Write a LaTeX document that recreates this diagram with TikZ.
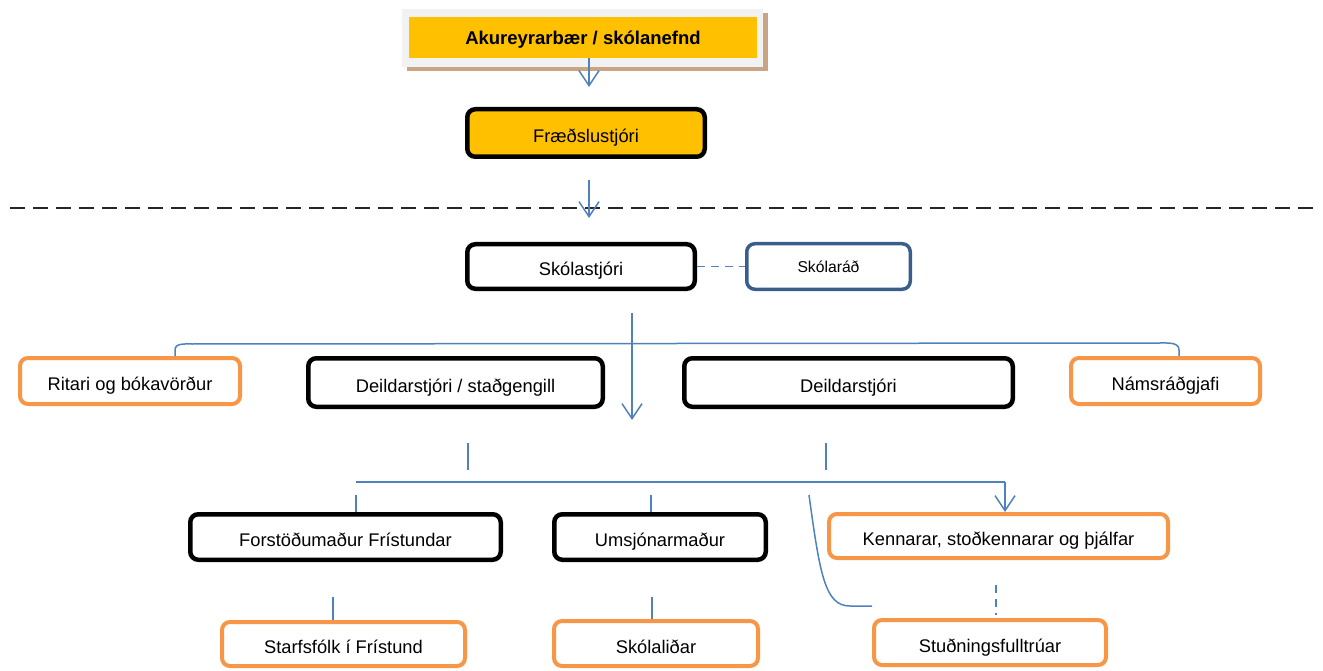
\documentclass[tikz,border=0pt]{standalone}
\usepackage{fontspec}
\setmainfont{Liberation Sans}
\usetikzlibrary{arrows.meta}
\definecolor{cyellow}{HTML}{FFC000}
\definecolor{corange}{HTML}{F79646}
\definecolor{cblue}{HTML}{4F81BD}
\definecolor{cnavy}{HTML}{3A5E8C}
\definecolor{cframe}{HTML}{F2F2F2}
\definecolor{cshadow}{HTML}{C9A584}
\begin{document}
\begin{tikzpicture}[x=1pt,y=-1pt,
  box/.style={draw, rounded corners=8pt, fill=white, inner sep=0pt,
    font=\fontsize{18.3}{20}\selectfont, text height=19pt, text depth=0pt},
  blackbox/.style={box, draw=black, line width=4.5pt},
  orangebox/.style={box, draw=corange, line width=4pt},
  navybox/.style={box, draw=cnavy, line width=3.5pt, font=\fontsize{15.7}{18}\selectfont, text height=12pt, text depth=0.8pt},
  conn/.style={draw=cblue, line width=1.5pt},
  arr/.style={conn, -{Straight Barb[length=15pt,width=20pt,line width=1.5pt]}},
]
\useasboundingbox (0,0) rectangle (1323,671);

% top box with frame and shadow
\node[fill=cframe, inner sep=0pt, minimum width=361pt, minimum height=58pt] (aku) at (582.5,38) {};
\fill[cshadow] ([shift={(5,4)}]aku.north east) rectangle ([shift={(5,4)}]aku.south east -| aku.south west);
\node[fill=cframe, inner sep=0pt, minimum width=361pt, minimum height=58pt] at (aku) {};
\node[fill=cyellow, inner sep=0pt, minimum width=348pt, minimum height=41pt,
  font=\fontsize{18.5}{20}\selectfont\bfseries, text height=15pt, text depth=0pt] (akuin) at (583,37.5) {Akureyrarbær / skólanefnd};

\node[blackbox, fill=cyellow, minimum width=237.5pt, minimum height=47.5pt] (fr) at (586,133) {Fræðslustjóri};
\node[blackbox, minimum width=227.5pt, minimum height=44.5pt] (sk) at (581,266.5) {Skólastjóri};
\node[navybox, minimum width=163.5pt, minimum height=45.5pt] (sr) at (828.5,266.5) {Skólaráð};

\node[orangebox, minimum width=220pt, minimum height=46pt] (rit) at (130,381) {Ritari og bókavörður};
\node[blackbox, minimum width=294.5pt, minimum height=48.5pt] (ds) at (455.5,382.5) {Deildarstjóri / staðgengill};
\node[blackbox, minimum width=328.5pt, minimum height=48.5pt] (dj) at (848.5,382.5) {Deildarstjóri};
\node[orangebox, minimum width=189pt, minimum height=46pt] (nam) at (1165.5,381) {Námsráðgjafi};

\node[blackbox, minimum width=310.5pt, minimum height=45.5pt] (fo) at (345.5,537) {Forstöðumaður Frístundar};
\node[blackbox, minimum width=211.5pt, minimum height=45.5pt] (um) at (660,537) {Umsjónarmaður};
\node[orangebox, minimum width=339pt, minimum height=44pt] (ke) at (998.5,536) {Kennarar, stoðkennarar og þjálfar};

\node[orangebox, minimum width=243pt, minimum height=44pt] (st) at (343.5,644) {Starfsfólk í Frístund};
\node[orangebox, minimum width=204pt, minimum height=45pt] (sl) at (656,643.5) {Skólaliðar};
\node[orangebox, minimum width=232pt, minimum height=45pt] (stu) at (990,642.5) {Stuðningsfulltrúar};

% coordinates
\coordinate (a1) at (589,87);
\coordinate (a2s) at (589,180);
\coordinate (a2e) at (589,218);
\coordinate (dl) at (10,208);
\coordinate (dr) at (1313,208);
\coordinate (m1) at (632,313);
\coordinate (m2) at (632,420);
\coordinate (t1a) at (468,443); \coordinate (t1b) at (468,470);
\coordinate (t2a) at (826,443); \coordinate (t2b) at (826,470);
\coordinate (hl) at (356,482); \coordinate (hr) at (1005,482);
\coordinate (fa) at (356,495); \coordinate (ua) at (651,495);
\coordinate (c1) at (809,495); \coordinate (c2) at (872,606);
\coordinate (d1) at (996,585); \coordinate (d2) at (996,615);
\coordinate (s1) at (333,597); \coordinate (s2) at (652,597);
\coordinate (bl1) at (175,350); \coordinate (bl2) at (192,344);
\coordinate (br1) at (1160,343); \coordinate (br2) at (1179,350);

% connectors
\draw[arr] ([xshift=6pt]akuin.south) -- (a1);
\draw[dash pattern=on 15pt off 8pt, line width=1.3pt, draw=black!85] (dl) -- (dr);
\draw[arr] (a2s) -- (a2e);
\draw[conn, dash pattern=on 8pt off 6pt] (sk.east) -- (sr.west);
\draw[arr] (m1) -- (m2);
\draw[conn] ([xshift=45pt]rit.north) -- (bl1) to[out=90,in=180] (bl2) -- (br1) to[out=0,in=90] (br2) -- ([xshift=13.5pt]nam.north);
\draw[conn] (t1a) -- (t1b);
\draw[conn] (t2a) -- (t2b);
\draw[conn] (hl) -- (hr);
\draw[arr] (hr) -- ([xshift=6.5pt]ke.north);
\draw[conn] (fa) -- (fa |- fo.north);
\draw[conn] (ua) -- (ua |- um.north);
\draw[conn] (c1) .. controls (820,575) and (825,606) .. (850,606) -- (c2);
\draw[conn, dash pattern=on 8pt off 6pt] (d1) -- (d2);
\draw[conn] (s1) -- (s1 |- st.north);
\draw[conn] (s2) -- (s2 |- sl.north);
\end{tikzpicture}
\end{document}
